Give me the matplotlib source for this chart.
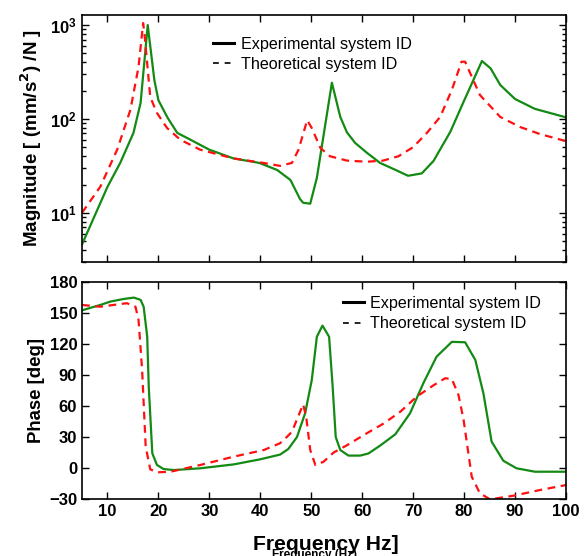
import numpy as np
import matplotlib
matplotlib.use("Agg")
import matplotlib.pyplot as plt
from matplotlib.lines import Line2D

plt.rcParams['font.family'] = ['Liberation Sans', 'DejaVu Sans']

# magnitude, experimental
mag_exp_f = [5, 10, 12.5, 15.1, 16.5, 17.9, 19.2, 20, 21.8, 23.7, 26.3, 30, 34.7, 39.8,
             43.3, 45.9, 47.8, 48.4, 49.8, 51.1, 54.05, 55.7, 57.0, 58.6, 60.9, 63.5,
             66.5, 69, 71.7, 74, 77.3, 79.8, 83.5, 85.2, 87.1, 90, 93.9, 100]
mag_exp = [4.6, 18.9, 34, 71, 148, 1000, 260, 158, 103, 71, 60, 47, 38, 34,
           28.6, 22.4, 14, 12.8, 12.5, 23.6, 243, 105, 72, 55.6, 43.7, 34,
           28.7, 24.8, 26.3, 35.7, 73, 148, 414, 346, 230, 163, 128, 104]

# magnitude, theoretical
mag_th_f = [5, 8.6, 11.9, 14.5, 16.1, 17.0, 17.25, 18.4, 19.7, 21.7, 24.3, 28.2, 34.7,
            40.6, 43.9, 46.2, 47.5, 49.2, 50.1, 51.8, 53.7, 57, 60.9, 64.1, 67.1, 70,
            72.7, 75.3, 77.6, 79.5, 80.2, 81.5, 83.1, 87.1, 91, 94.9, 100]
mag_th = [10, 19, 47, 125, 360, 1050, 820, 171, 116, 80, 60, 47, 38,
          34, 31.6, 34, 47, 97, 80, 49, 40, 36, 35, 36, 40, 50,
          71, 105, 204, 407, 407, 282, 180, 105, 82, 69, 58]

# phase, experimental
ph_exp_f = [5, 8.6, 10.6, 13.2, 15.2, 16.5, 17.1, 17.8, 18.1, 18.8, 19.7, 21, 23, 28.2,
            34.8, 40, 43.9, 45.5, 47.2, 48.8, 50.1, 51.1, 52.2, 53.5, 54.2, 54.8, 55.7,
            57.3, 59.6, 61.2, 63.5, 66.5, 69.4, 72, 74.6, 77.6, 80.2, 82.2, 83.8, 85.4,
            87.7, 90.3, 93.9, 100]
ph_exp = [152.5, 157.7, 161, 163.5, 164.8, 162.6, 156, 127, 78.7, 14.2, 3, -1, -2, -0.3,
          3.5, 8.4, 13, 18.4, 30, 53, 85, 127, 137.7, 127, 78.7, 30, 17.4,
          12, 12, 14, 21.6, 32.6, 53, 82, 107.7, 122, 121.6, 104.5, 72, 25.5,
          7, -0.3, -3.6, -3.6]

# phase, theoretical
ph_th_f = [5, 8.6, 13.8, 15.5, 16.1, 16.8, 17.5, 18.4, 19.7, 22.4, 28.2, 34.8, 40.7,
           43.9, 45.2, 46.2, 47.2, 48.4, 49.0, 49.8, 50.8, 52.4, 54.4, 57.0, 60.9, 64.2,
           67.5, 70.7, 74, 76.3, 77.6, 78.9, 79.9, 81.5, 83.1, 85.1, 89.7, 94.9, 100]
ph_th = [157.7, 156, 159.4, 156, 143, 94.8, 20.6, -1.3, -4.2, -3.6, 2.9, 11, 17.4,
         24, 30, 35, 47, 61.6, 49.7, 17.4, 2.9, 6, 15, 22, 33.6, 43,
         54.5, 69, 80, 86.8, 86, 70.6, 46.5, -8.4, -24.5, -30.3, -26.8, -21.3, -16.5]

green = '#138a13'
red = '#ff1010'

fig = plt.figure(figsize=(5.87, 5.56), dpi=100)
ax1 = fig.add_axes([0.1397, 0.529, 0.8245, 0.444])
ax2 = fig.add_axes([0.1397, 0.1025, 0.8245, 0.3905])

ax1.plot(mag_exp_f, mag_exp, color=green, lw=1.6)
ax1.plot(mag_th_f, mag_th, color=red, lw=1.6, ls=(0, (3.5, 2.5)))
ax1.set_yscale('log')
ax1.set_xlim(5, 100)
ax1.set_ylim(3, 1280)
ax1.set_xticks(range(10, 101, 10))
ax1.set_xticklabels([])
ax1.set_ylabel('Magnitude [ (mm/s$^\\mathbf{2}$) /N ]', fontsize=13.5, fontweight='bold')

ax2.plot(ph_exp_f, ph_exp, color=green, lw=1.6)
ax2.plot(ph_th_f, ph_th, color=red, lw=1.6, ls=(0, (3.5, 2.5)))
ax2.set_xlim(5, 100)
ax2.set_ylim(-30, 180)
ax2.set_xticks(range(10, 101, 10))
ax2.set_yticks(range(-30, 181, 30))
ax2.set_ylabel('Phase [deg]', fontsize=13.4, fontweight='bold')

for ax in (ax1, ax2):
    ax.tick_params(which='both', direction='in', top=True, right=True,
                   labelsize=12, width=1)
    ax.tick_params(which='major', length=5)
    ax.tick_params(which='minor', length=3)
    for lab in ax.get_xticklabels() + ax.get_yticklabels():
        lab.set_fontweight('bold')
    for s in ax.spines.values():
        s.set_linewidth(1.2)
ax1.yaxis.set_label_coords(-0.078, 0.5)
ax2.yaxis.set_label_coords(-0.076, 0.5)

handles = [Line2D([], [], color='black', lw=2.2),
           Line2D([], [], color='black', lw=1.2, ls=(0, (3.5, 3.5)))]
labels = ['Experimental system ID', 'Theoretical system ID']
leg_kw = dict(loc='upper left', frameon=False, fontsize=11.6, handlelength=1.3,
              handletextpad=0.4, labelspacing=0.33, borderpad=0, borderaxespad=0)
ax1.legend(handles, labels, bbox_to_anchor=(0.271, 0.912), **leg_kw)
ax2.legend(handles, labels, bbox_to_anchor=(0.539, 0.935), **leg_kw)

fig.text(0.535, -0.009, 'Frequency (Hz)', fontsize=8.5, fontweight='bold', ha='center', va='bottom')
fig.text(0.555, 0.021, 'Frequency Hz]', fontsize=15.2, fontweight='bold', ha='center', va='center')

fig.savefig('out.png', dpi=100)
